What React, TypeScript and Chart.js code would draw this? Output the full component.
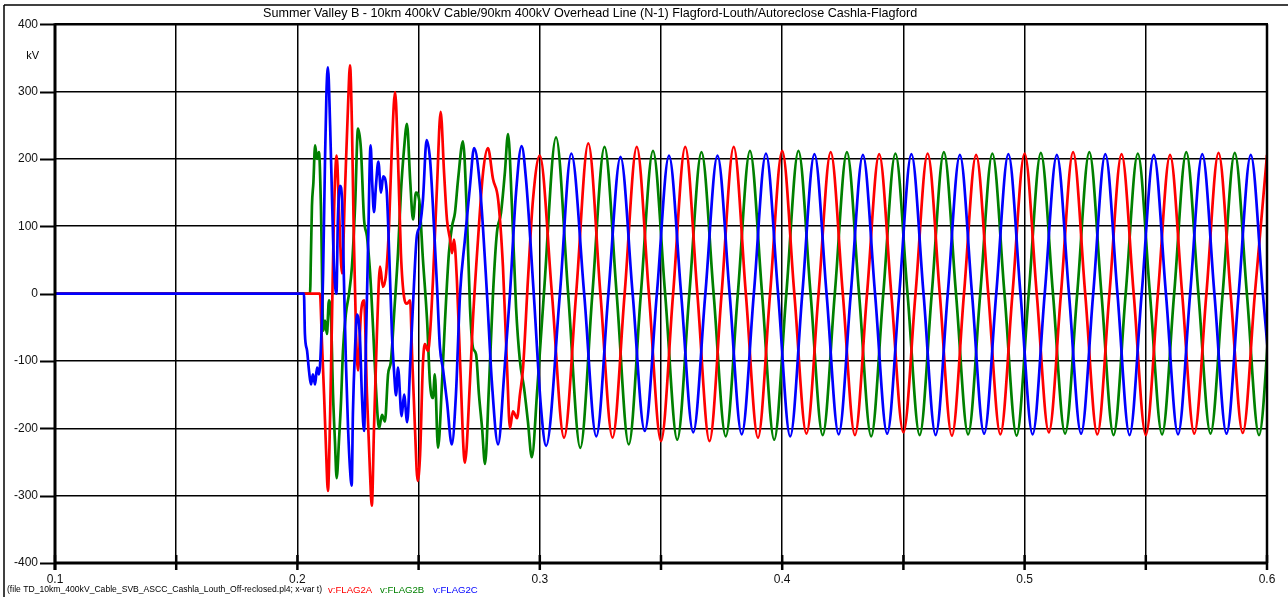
import { useEffect, useRef } from "react";
import { Chart, registerables } from "chart.js";

Chart.register(...registerables);

type Pt = [number, number];

// Time axis in seconds, voltages in kV.

// Phase A (red) – fault transient
const flag2ATransient: Pt[] = [
  [0.1, 0], [0.2093, 0], [0.2101, -70], [0.211, -150], [0.2118, -230], [0.2126, -293],
  [0.2135, -180], [0.2143, -30], [0.2151, 120], [0.2162, 205], [0.2172, 120], [0.2184, 30],
  [0.2196, 150], [0.2209, 280], [0.2217, 339], [0.2225, 250], [0.2233, 80], [0.2242, -60],
  [0.225, -114], [0.2262, -30], [0.2275, -10], [0.2287, -150], [0.23, -270], [0.2307, -315],
  [0.2316, -200], [0.2328, -60], [0.2341, 40], [0.2353, 10], [0.2366, 30], [0.2378, 100],
  [0.239, 220], [0.2403, 299], [0.2415, 200], [0.2427, 60], [0.244, -5], [0.2452, -15],
  [0.2465, -10], [0.2473, -90], [0.2485, -200], [0.2496, -278], [0.2506, -240], [0.2518, -103],
  [0.2526, -75], [0.2539, -85], [0.2547, -60], [0.2559, 18], [0.2576, 160], [0.2591, 270],
  [0.2605, 180], [0.2617, 110], [0.263, 80], [0.2638, 60], [0.2646, 80], [0.2658, 20],
  [0.2671, -100], [0.2691, -251], [0.2712, -130], [0.2724, -40], [0.2745, 80], [0.2766, 180],
  [0.2786, 216], [0.2807, 170], [0.2828, 140], [0.2848, 40], [0.2865, -110], [0.2877, -200],
  [0.2889, -175], [0.2906, -185], [0.2918, -150], [0.2931, -110], [0.2951, 20], [0.2972, 140],
];

// Phase A (red) – settled 50 Hz oscillation: peaks, troughs and zero crossings
const flag2ASteady: Pt[] = [
  [0.3, 205], [0.305, 0], [0.31, -214], [0.315, 0], [0.32, 223], [0.325, 0], [0.33, -214],
  [0.335, 0], [0.34, 218], [0.345, 0], [0.35, -219], [0.355, 0], [0.36, 218], [0.365, 0],
  [0.37, -219], [0.375, 0], [0.38, 218], [0.385, 0], [0.39, -214], [0.395, 0], [0.4, 212],
  [0.405, 0], [0.41, -208], [0.415, 0], [0.42, 210], [0.425, 0], [0.43, -210], [0.435, 0],
  [0.44, 207], [0.445, 0], [0.45, -206], [0.455, 0], [0.46, 208], [0.465, 0], [0.47, -211],
  [0.475, 0], [0.48, 206], [0.485, 0], [0.49, -209], [0.495, 0], [0.5, 208], [0.505, 0],
  [0.51, -206], [0.515, 0], [0.52, 210], [0.525, 0], [0.53, -209], [0.535, 0], [0.54, 207],
  [0.545, 0], [0.55, -210], [0.555, 0], [0.56, 206], [0.565, 0], [0.57, -208], [0.575, 0],
  [0.58, 209], [0.585, 0], [0.59, -207], [0.595, 0], [0.6, 206],
];

// Phase B (green) – fault transient
const flag2BTransient: Pt[] = [
  [0.1, 0], [0.2052, 0], [0.2056, 60], [0.206, 130], [0.2066, 165], [0.2073, 220],
  [0.2081, 200], [0.2089, 210], [0.2097, 130], [0.2107, -55], [0.2114, -40], [0.2122, -60],
  [0.213, -10], [0.2139, -40], [0.2147, -150], [0.2155, -220], [0.2162, -274], [0.2172, -215],
  [0.218, -160], [0.2188, -85], [0.22, -30], [0.2213, 0], [0.2225, 40], [0.2238, 130],
  [0.225, 245], [0.2262, 215], [0.2275, 110], [0.2287, 85], [0.23, 30], [0.2312, -50],
  [0.2324, -140], [0.2337, -200], [0.2349, -180], [0.2361, -190], [0.2374, -120], [0.2386, -100],
  [0.2399, -30], [0.2415, 60], [0.2427, 150], [0.244, 215], [0.2452, 252], [0.2465, 170],
  [0.2477, 110], [0.2489, 150], [0.2502, 140], [0.2518, 50], [0.2535, -40], [0.2547, -133],
  [0.2559, -155], [0.2567, -120], [0.258, -229], [0.2597, -130], [0.2609, -40], [0.2625, 60],
  [0.2638, 100], [0.265, 120], [0.2663, 170], [0.2683, 226], [0.27, 110], [0.2712, -20],
  [0.2724, -80], [0.2737, -90], [0.2749, -150], [0.2762, -200], [0.2774, -253], [0.279, -140],
  [0.2807, 0], [0.2823, 90], [0.284, 120], [0.2856, 180], [0.2869, 237], [0.2885, 130],
  [0.2902, -20], [0.2918, -100], [0.2935, -140], [0.2951, -190], [0.2967, -243], [0.299, -140],
  [0.3017, 0],
];

// Phase B (green) – settled oscillation
const flag2BSteady: Pt[] = [
  [0.3067, 232], [0.3117, 0], [0.3167, -229], [0.3217, 0], [0.3267, 218], [0.3317, 0],
  [0.3367, -224], [0.3417, 0], [0.3467, 212], [0.3517, 0], [0.3567, -217], [0.3617, 0],
  [0.3667, 210], [0.3717, 0], [0.3767, -212], [0.3817, 0], [0.3867, 212], [0.3917, 0],
  [0.3967, -217], [0.4017, 0], [0.4067, 212], [0.4117, 0], [0.4167, -210], [0.4217, 0],
  [0.4267, 210], [0.4317, 0], [0.4367, -212], [0.4417, 0], [0.4467, 208], [0.4517, 0],
  [0.4567, -210], [0.4617, 0], [0.4667, 210], [0.4717, 0], [0.4767, -209], [0.4817, 0],
  [0.4867, 208], [0.4917, 0], [0.4967, -211], [0.5017, 0], [0.5067, 209], [0.5117, 0],
  [0.5167, -208], [0.5217, 0], [0.5267, 210], [0.5317, 0], [0.5367, -210], [0.5417, 0],
  [0.5467, 208], [0.5517, 0], [0.5567, -209], [0.5617, 0], [0.5667, 210], [0.5717, 0],
  [0.5767, -208], [0.5817, 0], [0.5867, 209], [0.5917, 0], [0.5967, -210], [0.6017, 0],
];

// Phase C (blue) – fault transient
const flag2CTransient: Pt[] = [
  [0.1, 0], [0.2027, 0], [0.2031, -60], [0.204, -85], [0.2048, -115], [0.2056, -135],
  [0.2064, -120], [0.2073, -135], [0.2081, -110], [0.2089, -120], [0.2097, -80], [0.2106, 30],
  [0.2114, 200], [0.212, 300], [0.2126, 336], [0.2135, 250], [0.2143, 140], [0.2151, 40],
  [0.2161, 0], [0.2167, 110], [0.2176, 160], [0.2184, 140], [0.2192, 20], [0.22, -100],
  [0.2209, -200], [0.2217, -260], [0.2224, -285], [0.2229, -178], [0.2238, -80], [0.2246, -31],
  [0.2258, -65], [0.2266, -150], [0.2275, -204], [0.2283, -70], [0.2291, 60], [0.2302, 220],
  [0.2309, 161], [0.2316, 121], [0.2324, 160], [0.2334, 196], [0.2345, 150], [0.2354, 174],
  [0.2368, 154], [0.2379, 56], [0.239, -60], [0.2399, -117], [0.2407, -151], [0.2415, -110],
  [0.243, -182], [0.244, -150], [0.2453, -191], [0.2465, -107], [0.2481, 14], [0.2492, 83],
  [0.2506, 102], [0.2518, 140], [0.2533, 228], [0.2547, 200], [0.2559, 130], [0.2576, 10],
  [0.2588, -80], [0.2601, -113], [0.2617, -160], [0.2637, -224], [0.2654, -150], [0.2671, 0],
  [0.2691, 80], [0.2712, 160], [0.2729, 216], [0.2753, 160], [0.2782, 0], [0.2802, -130],
  [0.2828, -224], [0.2853, -120], [0.2877, 0], [0.2902, 150], [0.2925, 219], [0.2943, 170],
  [0.2975, 0], [0.3005, -170], [0.3026, -226],
];

// Phase C (blue) – settled oscillation
const flag2CSteady: Pt[] = [
  [0.3083, 0], [0.313, 208], [0.3183, 0], [0.3233, -212], [0.3283, 0], [0.3333, 203],
  [0.3383, 0], [0.3433, -204], [0.3483, 0], [0.3533, 205], [0.3583, 0], [0.3633, -206],
  [0.3683, 0], [0.3733, 205], [0.3783, 0], [0.3833, -209], [0.3883, 0], [0.3933, 208],
  [0.3983, 0], [0.4033, -212], [0.4083, 0], [0.4133, 207], [0.4183, 0], [0.4233, -209],
  [0.4283, 0], [0.4333, 206], [0.4383, 0], [0.4433, -208], [0.4483, 0], [0.4533, 207],
  [0.4583, 0], [0.4633, -210], [0.4683, 0], [0.4733, 206], [0.4783, 0], [0.4833, -208],
  [0.4883, 0], [0.4933, 207], [0.4983, 0], [0.5033, -209], [0.5083, 0], [0.5133, 206],
  [0.5183, 0], [0.5233, -208], [0.5283, 0], [0.5333, 207], [0.5383, 0], [0.5433, -210],
  [0.5483, 0], [0.5533, 206], [0.5583, 0], [0.5633, -209], [0.5683, 0], [0.5733, 207],
  [0.5783, 0], [0.5833, -208], [0.5883, 0], [0.5933, 206], [0.5983, 0], [0.6033, -209],
];

const seriesNames = ["v:FLAG2A", "v:FLAG2B", "v:FLAG2C"];
const seriesColors = ["#ff0000", "#008000", "#0000ff"];

const xTickValues = [0.1, 0.15, 0.2, 0.25, 0.3, 0.35, 0.4, 0.45, 0.5, 0.55, 0.6];
const xTickLabels = ["0.1", "", "0.2", "", "0.3", "", "0.4", "", "0.5", "", "0.6"];
const yTickValues = [-400, -300, -200, -100, 0, 100, 200, 300, 400];
const yTickLabels = ["-400", "-300", "-200", "-100", "0", "100", "200", "300", "400"];

const titleText =
  "Summer Valley B - 10km 400kV Cable/90km 400kV Overhead Line (N-1) Flagford-Louth/Autoreclose Cashla-Flagford";
const fileNote = "(file TD_10km_400kV_Cable_SVB_ASCC_Cashla_Louth_Off-reclosed.pl4; x-var t)";
const yUnit = "kV";

const FONT = '"Liberation Sans", Arial, sans-serif';
const W = 1288;
const H = 597;

const toXY = (pts: Pt[]) => pts.map(([x, y]) => ({ x, y }));

// Frame, axis ticks and captions in the plot-program style
const framePlugin = {
  id: "plotFrame",
  afterDraw(chart: any) {
    const { ctx, chartArea: a } = chart;
    const xs = chart.scales.x;
    const ys = chart.scales.y;
    const seg = (x1: number, y1: number, x2: number, y2: number) => {
      ctx.beginPath();
      ctx.moveTo(x1, y1);
      ctx.lineTo(x2, y2);
      ctx.stroke();
    };
    ctx.save();
    ctx.strokeStyle = "#000";
    ctx.lineCap = "butt";

    // outer page frame
    ctx.lineWidth = 1.5;
    seg(4, 5, W, 5);
    seg(4, 5, 4, H);

    // top and right borders of the plot
    ctx.lineWidth = 2.5;
    seg(a.left, a.top, a.right + 1, a.top);
    seg(a.right, a.top, a.right, a.bottom);

    // axes
    ctx.lineWidth = 3;
    seg(a.left, a.top - 1, a.left, a.bottom + 7);
    seg(a.left, a.bottom, a.right + 1, a.bottom);

    // y ticks
    ctx.lineWidth = 2;
    yTickValues.forEach((v) => {
      const py = Math.round(ys.getPixelForValue(v)) + 0.5;
      seg(a.left - 15, py, a.left, py);
    });
    // x ticks
    ctx.lineWidth = 2.5;
    xTickValues.forEach((v) => {
      const px = xs.getPixelForValue(v);
      seg(px, a.bottom - 8, px, a.bottom + 7);
    });

    // captions
    ctx.fillStyle = "#000";
    ctx.textBaseline = "middle";
    ctx.textAlign = "left";
    ctx.font = `12.6px ${FONT}`;
    ctx.fillText(titleText, 263, 14);

    ctx.textAlign = "right";
    ctx.font = `11px ${FONT}`;
    ctx.fillText(yUnit, 39, 56);

    ctx.textAlign = "left";
    ctx.font = `8.6px ${FONT}`;
    ctx.fillText(fileNote, 7, 590);
    ctx.font = `9.6px ${FONT}`;
    const legendX = [328, 380, 433];
    seriesNames.forEach((name, i) => {
      ctx.fillStyle = seriesColors[i];
      ctx.fillText(name, legendX[i], 590);
    });
    ctx.restore();
  },
};

export default function App() {
  const canvasRef = useRef<HTMLCanvasElement | null>(null);

  useEffect(() => {
    const canvas = canvasRef.current;
    if (!canvas) return;
    const chart = new Chart(canvas, {
      type: "line",
      data: {
        datasets: [
          {
            label: seriesNames[0],
            data: toXY([...flag2ATransient, ...flag2ASteady]),
            borderColor: seriesColors[0],
            order: 2,
          },
          {
            label: seriesNames[1],
            data: toXY([...flag2BTransient, ...flag2BSteady]),
            borderColor: seriesColors[1],
            order: 3,
          },
          {
            label: seriesNames[2],
            data: toXY([...flag2CTransient, ...flag2CSteady]),
            borderColor: seriesColors[2],
            order: 1,
          },
        ],
      },
      options: {
        animation: false,
        responsive: false,
        devicePixelRatio: 1,
        layout: { padding: { top: 22, right: 21, left: 0, bottom: 0 } },
        plugins: {
          legend: { display: false },
          tooltip: { enabled: false },
          title: { display: false },
        },
        elements: {
          point: { radius: 0 },
          line: { borderWidth: 2.7, cubicInterpolationMode: "monotone", fill: false },
        },
        scales: {
          x: {
            type: "linear",
            min: 0.1,
            max: 0.6,
            afterBuildTicks: (s: any) => {
              s.ticks = xTickValues.map((value) => ({ value }));
            },
            afterFit: (s: any) => {
              s.height = 34;
            },
            ticks: {
              autoSkip: false,
              maxRotation: 0,
              padding: 9,
              color: "#111",
              font: { family: FONT, size: 12 },
              callback: (_v: any, i: number) => xTickLabels[i] ?? "",
            },
            grid: { color: "#000", lineWidth: 1.5, drawTicks: false },
            border: { display: false },
          },
          y: {
            type: "linear",
            min: -400,
            max: 400,
            afterBuildTicks: (s: any) => {
              s.ticks = yTickValues.map((value) => ({ value }));
            },
            afterFit: (s: any) => {
              s.width = 55;
            },
            ticks: {
              padding: 17,
              color: "#111",
              font: { family: FONT, size: 12 },
              callback: (_v: any, i: number) => yTickLabels[i] ?? "",
            },
            grid: { color: "#000", lineWidth: 1.5, drawTicks: false },
            border: { display: false },
          },
        },
      },
      plugins: [framePlugin],
    });
    return () => chart.destroy();
  }, []);

  return (
    <div style={{ position: "fixed", left: 0, top: 0, width: W, height: H, background: "#fff" }}>
      <canvas ref={canvasRef} width={W} height={H} style={{ display: "block" }} />
    </div>
  );
}
